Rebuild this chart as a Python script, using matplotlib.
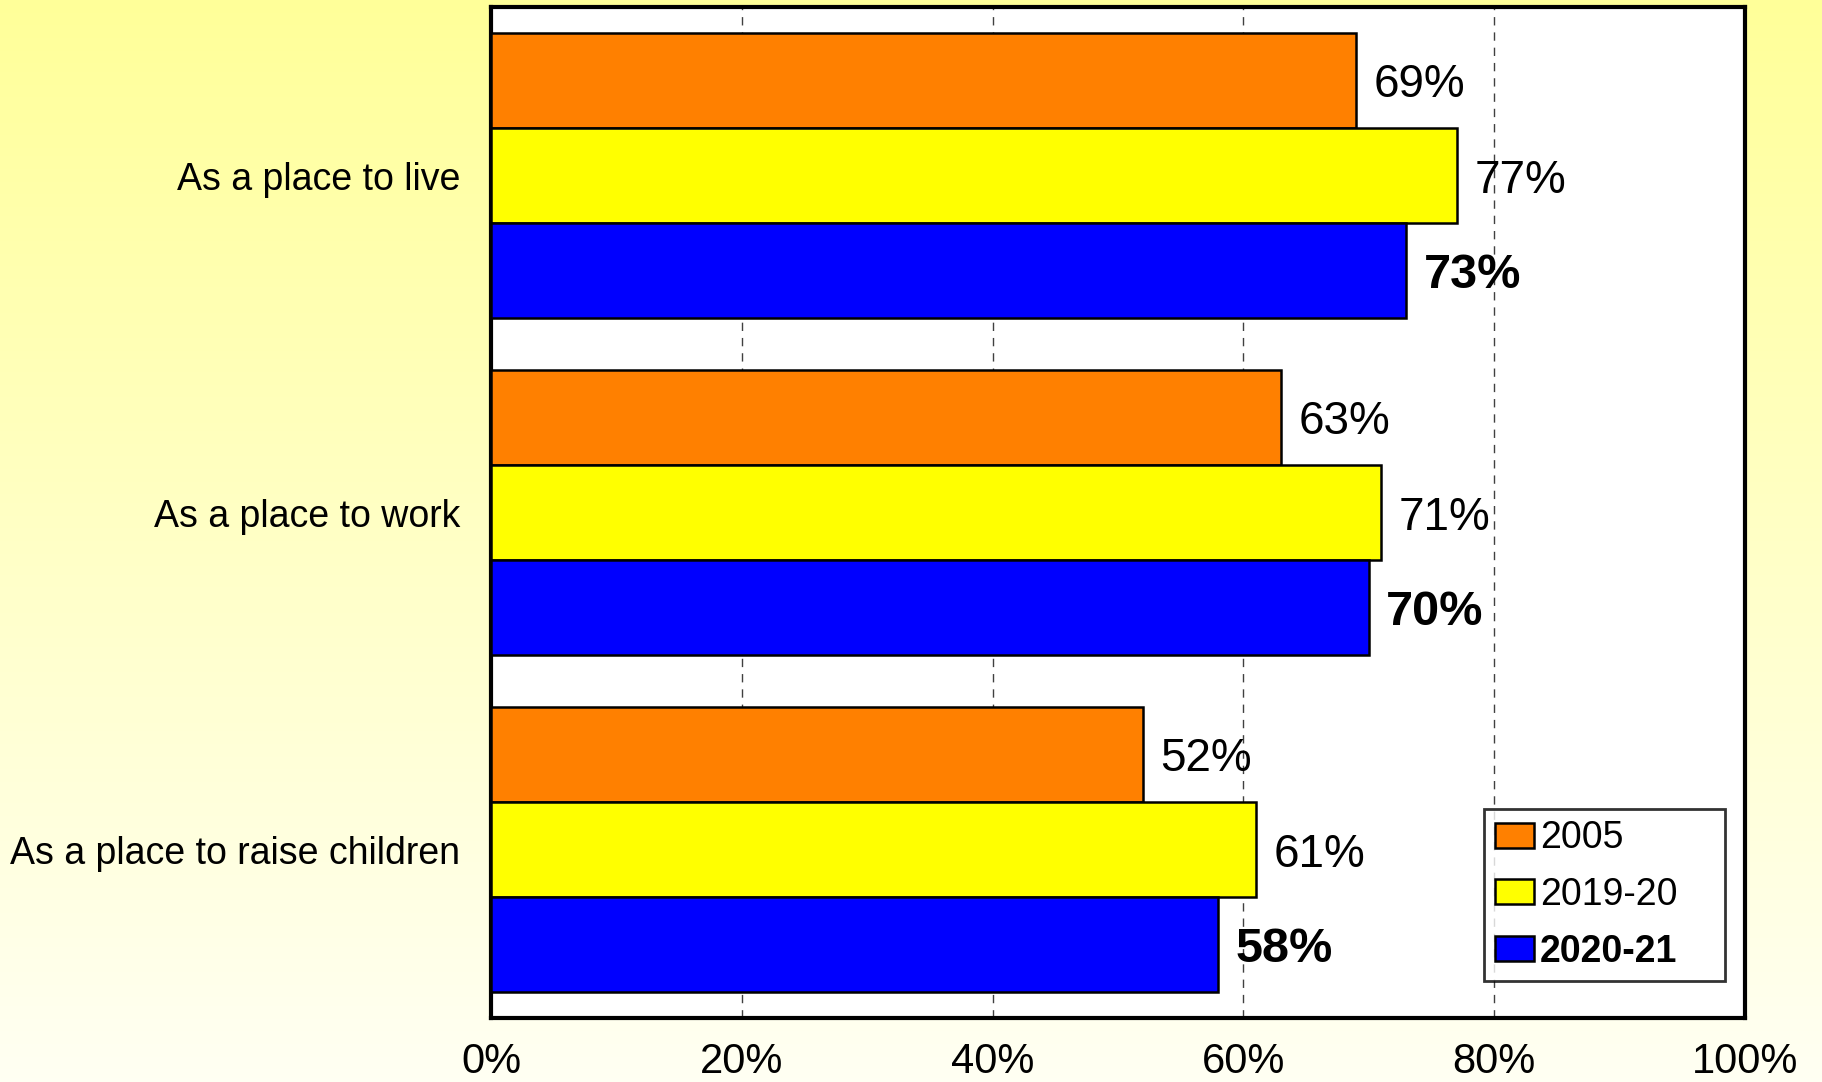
import numpy as np
import matplotlib
matplotlib.use("Agg")
import matplotlib.pyplot as plt
from matplotlib.colors import LinearSegmentedColormap

plt.rcParams['font.family'] = ['Liberation Sans', 'DejaVu Sans']

''' DATA '''
categories = ["As a place to live", "As a place to work", "As a place to raise children"]
series_names = ["2005", "2019-20", "2020-21"]
vals_2005 = [69, 63, 52]
vals_2019 = [77, 71, 61]
vals_2020 = [73, 70, 58]
x_ticks = [0, 20, 40, 60, 80, 100]

colors = ["#FF8000", "#FFFF00", "#0000FF"]

''' FIGURE '''
fig = plt.figure(figsize=(18.22, 10.82), dpi=100)

# background gradient (yellow at top to pale cream at bottom)
bg = fig.add_axes([0, 0, 1, 1], zorder=-10)
cmap = LinearSegmentedColormap.from_list("bg", ["#FFFF99", "#FFFFF3"])
grad = np.linspace(0, 1, 256).reshape(-1, 1)
bg.imshow(grad, aspect="auto", cmap=cmap, extent=[0, 1, 0, 1], origin="upper")
bg.axis("off")

ax = fig.add_axes([491 / 1822, 1 - 1018 / 1082, (1745 - 491) / 1822, (1018 - 7) / 1082])
ax.set_facecolor("white")

bar_h = 82 / 290
y = np.arange(len(categories))
all_vals = [vals_2005, vals_2019, vals_2020]
for i, (vals, col, name) in enumerate(zip(all_vals, colors, series_names)):
    pos = y + (i - 1) * bar_h
    ax.barh(pos, vals, height=bar_h, color=col, edgecolor="black", linewidth=1.8,
            label=name, zorder=3)
    bold = i == 2
    for p, v in zip(pos, vals):
        ax.text(v + 1.4, p, f"{v}%", va="center_baseline", ha="left",
                fontsize=35 if bold else 33,
                fontweight="bold" if bold else "normal", zorder=4)

ax.set_xlim(0, 100)
ax.set_ylim(len(categories) - 0.5, -0.5)
ax.set_yticks(y)
ax.set_yticklabels(categories, fontsize=27)
ax.set_xticks(x_ticks)
ax.set_xticklabels([f"{t}%" for t in x_ticks], fontsize=30)
ax.tick_params(axis="both", length=0)
ax.tick_params(axis="x", pad=17)
ax.tick_params(axis="y", pad=22)
ax.grid(axis="x", linestyle=(0, (6, 5)), color="#404040", linewidth=1.0, zorder=0)
for s in ax.spines.values():
    s.set_linewidth(3)

leg = ax.legend(loc="lower left", bbox_to_anchor=(0.7915, 0.0368, 0.1927, 0.162),
                mode="expand", borderaxespad=0, fontsize=27,
                frameon=True, fancybox=False, edgecolor="black", handlelength=1.05,
                handleheight=0.65, handletextpad=0.15, labelspacing=0.55,
                borderpad=0.3)
leg.get_frame().set_linewidth(2)
leg.get_texts()[2].set_fontweight("bold")

fig.savefig("out.png", dpi=100)
